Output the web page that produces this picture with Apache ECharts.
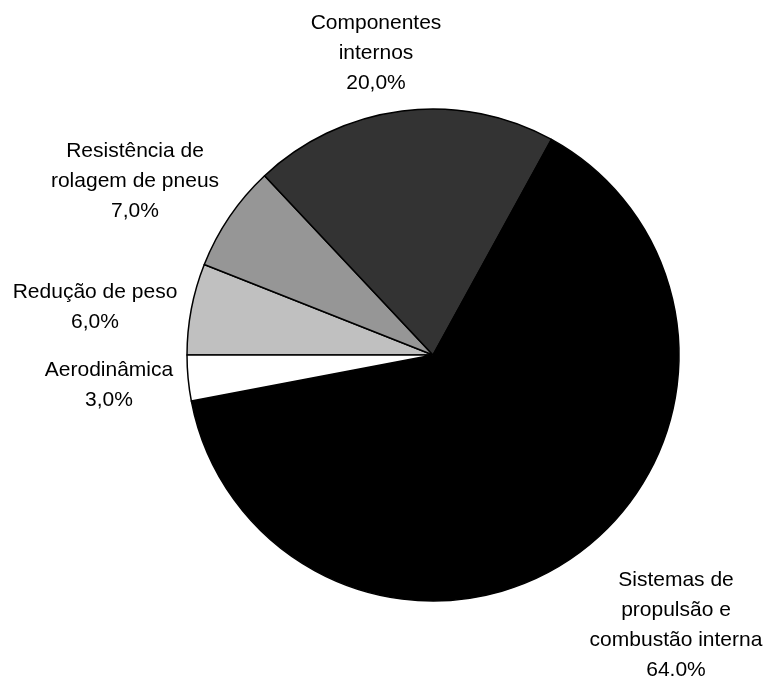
<!DOCTYPE html>
<html>
<head>
<meta charset="utf-8">
<script src="https://cdn.jsdelivr.net/npm/echarts@6/dist/echarts.min.js"></script>
<style>
html,body{margin:0;padding:0;background:#fff;}
#chart{width:766px;height:677px;}
</style>
</head>
<body>
<div id="chart"></div>
<script>
// Data (clockwise from 9 o'clock)
const categories = ['Redução de peso', 'Resistência de\nrolagem de pneus', 'Componentes\ninternos', 'Sistemas de\npropulsão e\ncombustão interna', 'Aerodinâmica'];
const values = [6, 7, 20, 64, 3];
const valueLabels = ['6,0%', '7,0%', '20,0%', '64.0%', '3,0%'];
const colors = ['#c0c0c0', '#969696', '#333333', '#000000', '#ffffff'];
// label anchor positions (centre of each text block)
const labelPos = [[95, 307], [135, 181], [376, 53], [676, 625], [109, 385]];

const chart = echarts.init(document.getElementById('chart'), null, {renderer: 'canvas'});
chart.setOption({
  backgroundColor: '#ffffff',
  animation: false,
  series: [{
    type: 'pie',
    center: [433, 355],
    radius: 246,
    startAngle: 180,
    clockwise: true,
    avoidLabelOverlap: false,
    data: categories.map((c, i) => ({
      name: c, value: values[i],
      itemStyle: {color: colors[i]}
    })),
    itemStyle: {borderColor: '#000', borderWidth: 1.5},
    emphasis: {disabled: true},
    label: {
      show: true,
      position: 'outside',
      formatter: p => p.name + '\n' + valueLabels[p.dataIndex],
      fontFamily: 'Liberation Sans, Arial, sans-serif',
      fontSize: 21,
      lineHeight: 30,
      color: '#000',
      align: 'center'
    },
    labelLine: {show: false},
    labelLayout: p => ({
      x: labelPos[p.dataIndex][0],
      y: labelPos[p.dataIndex][1],
      align: 'center',
      verticalAlign: 'middle'
    })
  }]
});
</script>
</body>
</html>
